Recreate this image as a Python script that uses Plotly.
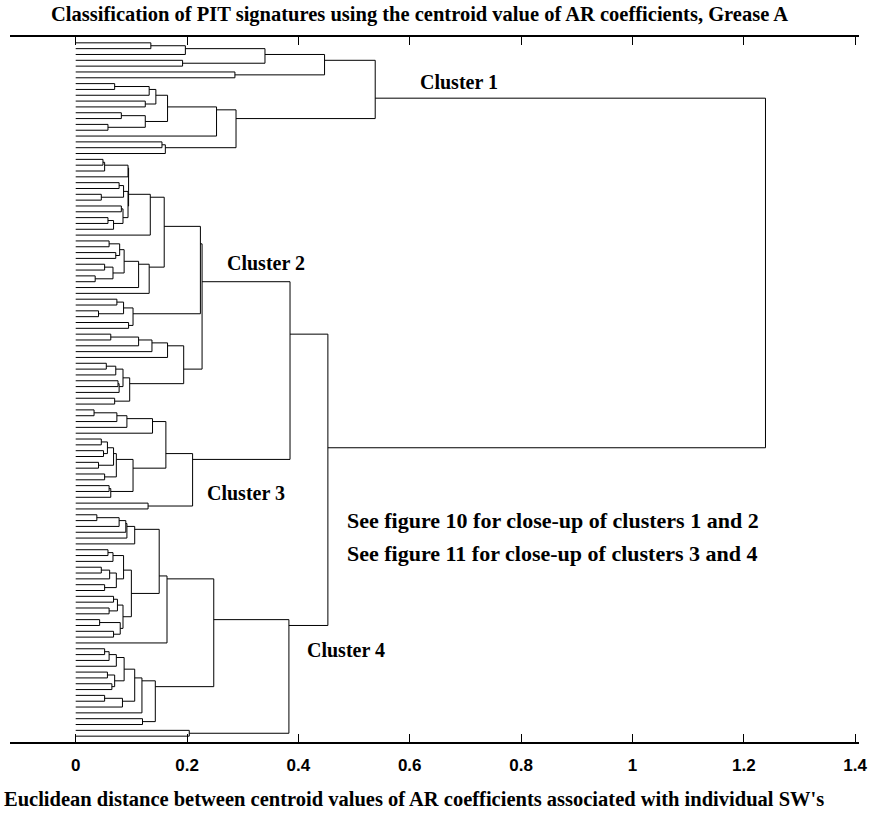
import plotly.graph_objects as go

# ---------------- data: dendrogram merge heights (nested [height, left, right], 0 = leaf) -------------
CLUSTER1_A = [0.447, [0.34, [0.197, [0.135, 0, 0], 0], [0.192, 0, 0]], [0.286, 0, 0]]
CLUSTER1_B1 = [0.144, [0.132, [0.07, 0, 0], 0], [0.125, 0, 0]]
CLUSTER1_B2 = [0.125, [0.082, 0, 0], [0.058, 0, 0]]
CLUSTER1_B = [0.288, [0.253, [0.165, CLUSTER1_B1, CLUSTER1_B2], 0], [0.161, [0.155, 0, 0], 0]]
CLUSTER1 = [0.538, CLUSTER1_A, CLUSTER1_B]

CLUSTER2_G1 = [0.095, [0.094, [0.052, [0.049, 0, 0], 0], 0],
               [0.094, [0.086, [0.078, 0, 0], [0.046, 0, 0]],
                [0.085, [0.082, 0, 0], [0.068, [0.058, 0, 0], 0]]]]
CLUSTER2_N1 = [0.134, CLUSTER2_G1, 0]
CLUSTER2_G2 = [0.132, [0.113, [0.087, [0.079, [0.06, 0, 0], [0.072, 0, 0]],
                               [0.067, [0.052, 0, 0], [0.035, 0, 0]]], 0], 0]
CLUSTER2_N2 = [0.159, CLUSTER2_N1, CLUSTER2_G2]
CLUSTER2_G3 = [0.103, [0.086, [0.074, 0, 0], [0.041, 0, 0]], [0.095, 0, 0]]
CLUSTER2_P = [0.224, CLUSTER2_N2, CLUSTER2_G3]
CLUSTER2_H1 = [0.165, [0.137, [0.113, [0.063, 0, 0], 0], 0], 0]
CLUSTER2_H2 = [0.097, [0.085, [0.072, [0.055, 0, 0], 0], [0.078, [0.076, 0, 0], 0]], [0.07, 0, 0]]
CLUSTER2 = [0.227, CLUSTER2_P, [0.194, CLUSTER2_H1, CLUSTER2_H2]]

CLUSTER3_A = [0.138, [0.092, [0.074, [0.033, 0, 0], 0], 0], 0]
CLUSTER3_B = [0.103, [0.073, [0.068, [0.057, [0.046, 0, 0], [0.05, 0, 0]], [0.041, 0, 0]], [0.052, 0, 0]],
              [0.063, [0.06, 0, 0], 0]]
CLUSTER3 = [0.21, [0.162, CLUSTER3_A, CLUSTER3_B], [0.13, 0, 0]]

CLUSTER4_A = [0.106, [0.092, [0.09, [0.078, [0.038, 0, 0], 0], 0], 0], 0]
CLUSTER4_B = [0.1, [0.086, [0.067, [0.058, 0, 0], 0], [0.073, [0.061, [0.046, 0, 0], 0], [0.052, 0, 0]]],
              [0.085, [0.075, [0.068, 0, 0], [0.06, 0, 0]], [0.08, [0.043, 0, 0], [0.068, 0, 0]]]]
CLUSTER4_ABC = [0.164, [0.15, CLUSTER4_A, CLUSTER4_B], 0]
CLUSTER4_D = [0.143, [0.119, [0.106, [0.087, [0.073, [0.06, [0.052, 0, 0], 0], 0],
                                       [0.07, [0.057, 0, 0], [0.065, 0, 0]]],
                               [0.084, [0.052, 0, 0], 0]], 0], [0.12, 0, 0]]
CLUSTER4 = [0.383, [0.248, CLUSTER4_ABC, CLUSTER4_D], [0.204, 0, 0]]

CLUSTER23_HEIGHT = 0.385
REST_HEIGHT = 0.453
ROOT_HEIGHT = 1.239
ROOT = [ROOT_HEIGHT, CLUSTER1, [REST_HEIGHT, [CLUSTER23_HEIGHT, CLUSTER2, CLUSTER3], CLUSTER4]]

TICK_VALUES = [0, 0.2, 0.4, 0.6, 0.8, 1.0, 1.2, 1.4]
TICK_LABELS = ["0", "0.2", "0.4", "0.6", "0.8", "1", "1.2", "1.4"]

TITLE = "Classification of PIT signatures using the centroid value of AR coefficients, Grease A"
XTITLE = "Euclidean distance between centroid values of AR coefficients associated with individual SW's"
CLUSTER_LABELS = ["Cluster 1", "Cluster 2", "Cluster 3", "Cluster 4"]
NOTES = ["See figure 10 for close-up of clusters 1 and 2",
         "See figure 11 for close-up of clusters 3 and 4"]

# ---------------- build dendrogram segments (node drawn at mean of its leaves) ----------------
xs, ys = [], []
counter = [0]


def walk(n):
    """returns (sum of leaf positions, number of leaves, height)"""
    if n == 0:
        counter[0] += 1
        return float(counter[0]), 1, 0.0
    h, a, b = n
    sa, ca, ha = walk(a)
    sb, cb, hb = walk(b)
    ya, yb = sa / ca, sb / cb
    xs.extend([ha, h, h, hb, None])
    ys.extend([ya, ya, yb, yb, None])
    return sa + sb, ca + cb, h


walk(ROOT)
N = counter[0]

W, H = 877, 817
PL, PR, PT, PB = 10, 862, 37, 742


def px(xp):
    return (xp - PL) / (PR - PL)


def py(yp):
    return (PB - yp) / (PB - PT)


fig = go.Figure()
fig.add_trace(go.Scatter(x=xs, y=ys, mode="lines", line=dict(color="black", width=1),
                         hoverinfo="skip", showlegend=False))

serif_t = dict(family="Liberation Serif", size=20.5, color="black", weight="bold")
serif_c = dict(family="Liberation Serif", size=20, color="black", weight="bold")
serif_n = dict(family="Liberation Serif", size=22, color="black", weight="bold")
ann = []
ann.append(dict(text=TITLE, x=px(421), y=py(15), xref="paper", yref="paper", showarrow=False,
                xanchor="center", yanchor="middle", font=serif_t))
ann.append(dict(text=XTITLE, x=px(2), y=py(799), xref="paper", yref="paper", showarrow=False,
                xanchor="left", yanchor="middle", font=serif_t))
label_pos = [(461, 82), (267, 263), (247, 493), (347, 650)]
for t, (lx, ly) in zip(CLUSTER_LABELS, label_pos):
    ann.append(dict(text=t, x=px(lx), y=py(ly), xref="paper", yref="paper", showarrow=False,
                    xanchor="center", yanchor="middle", font=serif_c))
for t, ly in zip(NOTES, [520, 553]):
    ann.append(dict(text=t, x=px(346), y=py(ly), xref="paper", yref="paper", showarrow=False,
                    xanchor="left", yanchor="middle", font=serif_n))

fig.update_layout(
    width=W, height=H,
    margin=dict(l=PL, r=W - PR, t=PT, b=H - PB, pad=0),
    paper_bgcolor="white", plot_bgcolor="white",
    annotations=ann,
    xaxis=dict(range=[-0.118, 1.407], tickvals=TICK_VALUES, ticktext=TICK_LABELS,
               ticks="inside", ticklen=8, tickwidth=1, tickcolor="black",
               showline=True, linecolor="black", linewidth=2, mirror="ticks",
               showgrid=False, zeroline=False, ticklabelstandoff=7,
               tickfont=dict(family="Liberation Sans", size=17, color="black", weight="bold")),
    yaxis=dict(range=[N + 1, 0], showticklabels=False, showgrid=False, zeroline=False,
               showline=False, ticks=""),
)

fig.write_html("out.html")
